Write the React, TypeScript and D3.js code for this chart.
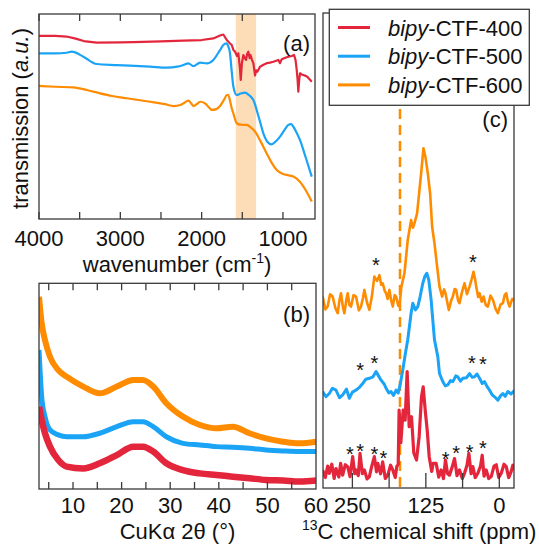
import React from 'react';
import * as d3 from 'd3';

const W = 539, H = 544;
const FONT = '"Liberation Sans", Arial, Helvetica, sans-serif';
const RED = '#e3263b', BLUE = '#1ba3f5', ORANGE = '#ff8b00';
const FRAME = '#3a3a3a';

// ---------- Panel (a): IR ----------
const irTicks = [4000, 3500, 3000, 2500, 2000, 1500, 1000];
const irLabels = [4000, 3000, 2000, 1000];
const irBand = [1580, 1330];
const ir400: [number, number][] = [
  [4000, 89.3], [3800, 89.3], [3660, 89.0], [3550, 88.0], [3450, 86.8], [3290, 86.0], [3000, 86.2],
  [2840, 86.3], [2500, 86.6], [2225, 87.0], [2000, 87.3], [1856, 88.1], [1774, 89.5], [1733, 90.0],
  [1691, 87.3], [1660, 86.0], [1630, 84.9], [1610, 82.5], [1589, 81.6], [1565, 79.5], [1549, 80.8],
  [1530, 74.0], [1519, 67.8], [1505, 76.0], [1487, 80.0], [1470, 78.5], [1454, 77.6], [1440, 80.5],
  [1426, 81.6], [1410, 78.5], [1399, 80.0], [1380, 77.5], [1364, 76.0], [1343, 70.0], [1330, 72.5],
  [1315, 71.9], [1282, 74.3], [1240, 75.2], [1200, 76.0], [1160, 76.3], [1118, 76.7], [1057, 77.6],
  [1036, 76.0], [1016, 77.9], [954, 78.9], [893, 79.5], [864, 80.0], [845, 77.5], [831, 72.7],
  [820, 68.0], [811, 62.1], [800, 68.0], [790, 71.1], [770, 70.5], [749, 70.2], [720, 69.8],
  [700, 69.4], [670, 68.0], [646, 67.0],
];
const ir500: [number, number][] = [
  [4000, 80.8], [3800, 80.8], [3660, 81.1], [3598, 81.6], [3455, 79.2], [3290, 75.6], [3044, 75.1],
  [2634, 74.3], [2429, 73.8], [2300, 74.3], [2225, 75.1], [2163, 75.9], [2101, 74.6], [2019, 76.3],
  [1937, 75.9], [1856, 77.6], [1774, 82.4], [1730, 85.0], [1700, 85.7], [1675, 84.5], [1651, 80.8],
  [1630, 72.0], [1610, 64.6], [1569, 60.5], [1520, 61.2], [1466, 61.6], [1420, 60.5], [1364, 58.0],
  [1300, 50.0], [1241, 41.8], [1190, 37.6], [1139, 36.4], [1090, 37.8], [1036, 40.2], [980, 43.5],
  [934, 45.9], [900, 46.3], [872, 45.0], [830, 42.0], [790, 38.5], [720, 30.0], [646, 20.7],
];
const ir600: [number, number][] = [
  [4000, 64.9], [3800, 64.5], [3578, 64.2], [3400, 62.8], [3249, 61.3], [3100, 60.0], [2921, 58.9],
  [2634, 57.2], [2450, 56.0], [2347, 55.1], [2260, 55.6], [2225, 56.4], [2163, 57.7], [2130, 56.5],
  [2101, 55.1], [2060, 56.0], [2019, 57.2], [1958, 56.4], [1900, 54.0], [1876, 53.2], [1820, 53.6],
  [1774, 55.1], [1720, 58.5], [1690, 60.5], [1672, 60.5], [1650, 57.5], [1630, 54.0], [1610, 51.5],
  [1569, 46.7], [1520, 46.0], [1446, 45.9], [1400, 44.8], [1343, 42.6], [1270, 37.5], [1200, 32.0],
  [1140, 27.5], [1077, 23.9], [1000, 22.0], [930, 21.3], [872, 20.7], [800, 18.5], [720, 14.0],
  [646, 8.5],
];

// ---------- Panel (b): XRD ----------
const xrdTicks = [5, 10, 15, 20, 25, 30, 35, 40, 45, 50, 55];
const xrdLabels = [10, 20, 30, 40, 50, 60];
const xrd400: [number, number][] = [
  [3.0, 40.0], [3.55, 33.5], [4.23, 27.1], [5.26, 20.6], [6.97, 14.1], [8.68, 10.9], [12.1, 10.0],
  [15.5, 12.5], [19.0, 16.5], [22.4, 20.6], [24.4, 20.6], [26.5, 18.2], [29.2, 12.5], [32.6, 9.2],
  [36.1, 7.6], [39.5, 6.8], [42.9, 6.0], [46.3, 5.2], [49.7, 4.4], [53.2, 4.1], [56.6, 3.6], [60, 4.1],
];
const xrd500: [number, number][] = [
  [3.0, 67.6], [3.55, 44.9], [4.23, 35.2], [5.26, 28.7], [6.97, 26.3], [8.68, 25.4], [12.1, 25.4],
  [15.5, 27.1], [19.0, 30.3], [22.4, 32.7], [24.4, 32.7], [26.5, 30.3], [29.2, 25.4], [32.6, 22.2],
  [36.1, 21.4], [39.5, 20.6], [42.9, 20.3], [46.3, 19.8], [49.7, 19.0], [53.2, 18.5], [56.6, 18.2], [60, 18.2],
];
const xrd600: [number, number][] = [
  [3.0, 93.5], [3.55, 80.6], [4.23, 72.4], [5.26, 64.3], [6.97, 57.8], [8.68, 54.6], [12.1, 49.8],
  [15.5, 46.5], [19.0, 49.8], [22.4, 53.0], [24.4, 53.0], [26.5, 49.8], [29.2, 41.7], [32.6, 35.2],
  [36.1, 31.1], [39.5, 29.5], [42.9, 30.3], [46.3, 27.1], [49.7, 24.6], [53.2, 23.0], [56.6, 22.2], [60, 23.0],
];

// ---------- Panel (c): 13C NMR ----------
const nmrTicks = [250, 187.5, 125, 62.5, 0];
const nmrLabels = [250, 125, 0];
const nmrDashed = 169;
const nmr400: [number, number][] = [
  [300.6, 3.8], [296, 2.2], [292, 4.6], [289.2, 3.1], [285, 5.0], [281, 2.0], [277.9, 4.1], [273, 2.3],
  [270, 5.2], [266.5, 2.7], [262, 4.9], [258.0, 4.5], [254, 2.4], [249.5, 6.6], [246, 3.0], [243.8, 3.8],
  [240, 2.6], [237.0, 7.3], [233, 3.0], [229.6, 3.8], [225, 1.9], [221.1, 2.4], [217, 4.6], [212.6, 6.6],
  [209, 3.4], [206.9, 5.2], [202, 3.0], [198.4, 5.5], [194, 2.0], [189.8, 2.7], [185, 4.8], [181.3, 3.8],
  [177, 2.2], [174.5, 4.5], [172, 5.0], [170.5, 16.4], [167.6, 9.5], [163.6, 16.4], [160.2, 14.3],
  [156.8, 24.5], [153.4, 12.9], [149.4, 15.0], [145.5, 7.4], [140.9, 5.9], [136.4, 10.8], [132.4, 19.2],
  [129.5, 21.3], [126.1, 16.4], [122.7, 12.2], [119.3, 6.6], [115, 3.5], [112.5, 5.2], [107.5, 5.2],
  [103, 2.3], [99.0, 3.8], [95, 2.0], [91.6, 5.9], [88, 3.0], [84.8, 2.7], [80, 4.5], [76.2, 6.2],
  [72, 2.6], [67.7, 3.8], [63, 2.0], [59.2, 3.1], [55, 4.8], [51.8, 7.3], [48, 3.0], [45.0, 4.5],
  [41, 2.2], [36.5, 3.1], [32, 4.6], [29.1, 6.9], [26, 2.5], [22.3, 3.8], [18, 2.0], [13.8, 2.4],
  [9, 4.6], [5.2, 4.9], [1, 2.2], [-3.3, 3.1], [-8, 5.0], [-11.8, 4.5], [-16, 2.2], [-20.3, 3.5],
  [-23, 4.8], [-26.0, 3.8],
];
const nmr500: [number, number][] = [
  [300.6, 20.3], [295, 19.2], [289.2, 19.9], [284, 21.0], [277.9, 20.6], [272, 19.0], [266.5, 19.6],
  [260, 20.8], [255.2, 18.9], [250, 20.2], [243.8, 20.6], [238, 21.2], [232.4, 22.0], [227, 22.9],
  [221.1, 23.1], [215, 23.4], [209.7, 24.5], [205, 23.5], [201.2, 22.7], [196, 21.9], [192.7, 21.0],
  [188, 20.0], [184.2, 20.3], [180, 19.5], [175.6, 20.6], [172, 20.0], [168.8, 21.7], [164.3, 24.8],
  [159.7, 28.4], [155.8, 31.2], [150.1, 36.8], [147.2, 38.9], [142.7, 37.5], [138.7, 38.2],
  [134.7, 40.3], [130.2, 43.1], [126.8, 44.5], [123.4, 45.2], [120.0, 43.8], [116.0, 39.6],
  [113.2, 35.4], [110.3, 31.2], [104.6, 27.6], [101.8, 24.1], [96.1, 22.4], [92, 21.5], [87.6, 21.7],
  [83, 22.6], [79.1, 22.4], [74, 23.6], [70.6, 23.4], [66, 22.5], [62.0, 23.1], [56, 23.2], [50.7, 24.1],
  [46, 23.3], [42.2, 23.4], [38, 24.0], [33.6, 23.1], [29, 22.0], [25.1, 22.4], [21, 21.4], [16.6, 20.6],
  [12, 19.6], [8.1, 19.2], [2.4, 18.5], [-2, 19.4], [-6.1, 19.9], [-10, 19.3], [-14.6, 20.3],
  [-20, 19.8], [-26.0, 20.6],
];
const nmr600: [number, number][] = [
  [300.6, 40.3], [296, 37.6], [292.1, 38.2], [288, 40.8], [283.6, 40.3], [279, 37.9], [275.0, 36.8],
  [272, 39.5], [269.4, 41.0], [266, 38.0], [263.7, 36.8], [260, 39.8], [258.0, 41.0], [255, 38.5],
  [252.3, 38.2], [248, 40.6], [243.8, 40.3], [239, 37.4], [235.3, 38.2], [232, 40.0], [229.6, 41.7],
  [225, 39.0], [221.1, 37.5], [217, 40.2], [212.6, 44.5], [208, 43.6], [204.0, 44.8], [201, 42.8],
  [198.4, 43.1], [195, 41.5], [192.7, 41.0], [190, 39.8], [187.0, 41.7], [184, 39.5], [181.3, 38.2],
  [178, 40.6], [175.6, 40.3], [172, 38.4], [170.0, 38.2], [166.6, 42.4], [161.4, 45.2], [155.8, 52.2],
  [150.1, 56.4], [147, 54.8], [144.4, 55.7], [139.9, 57.8], [135.9, 62.7], [132.5, 66.9], [129.1, 71.5],
  [125.7, 69.7], [121.7, 66.3], [117.7, 62.0], [114.3, 55.0], [110.3, 51.5], [105.8, 46.6],
  [101.8, 42.4], [97.3, 40.3], [94, 41.8], [91.6, 41.0], [88, 38.8], [85.9, 37.5], [82, 39.4],
  [79.1, 40.3], [76, 41.9], [73.4, 41.7], [70, 39.4], [67.7, 38.9], [63, 41.5], [59.2, 43.1],
  [55, 40.8], [50.7, 42.4], [47, 44.0], [43.9, 45.5], [41, 43.8], [39.3, 42.4], [36, 40.2], [33.6, 41.0],
  [30, 39.2], [26.8, 40.3], [23, 38.5], [19.4, 38.2], [15, 40.5], [10.9, 39.6], [6, 37.6], [2.4, 36.8],
  [-2, 38.6], [-6.1, 38.9], [-9, 40.6], [-11.8, 41.0], [-15, 39.0], [-17.5, 38.2], [-22, 39.8], [-26.0, 39.6],
];
const stars400: [number, number][] = [
  [254.1, 8.1], [237.0, 8.8], [212.5, 8.1], [197.1, 7.3], [91.4, 7.1], [73.3, 8.3], [50.5, 8.6], [27.8, 9.4],
];
const stars500: [number, number][] = [[237.0, 25.7], [212.5, 27.3], [46.6, 27.3], [27.8, 27.1]];
const stars600: [number, number][] = [[209.8, 47.9], [44.9, 48.6]];

const legendNames = ['-CTF-400', '-CTF-500', '-CTF-600'];
const legendColors = [RED, BLUE, ORANGE];

// layout
const A = { x0: 39, x1: 315, y0: 14, y1: 219 };
const B = { x0: 39, x1: 316, y0: 283.3, y1: 489 };
const C = { x0: 323, x1: 514, y0: 13, y1: 488 };

export default function App() {
  const xA = d3.scaleLinear().domain([4000, 606]).range([A.x0, A.x1]);
  const yA = d3.scaleLinear().domain([0, 100]).range([A.y1, A.y0]);
  const xB = d3.scaleLinear().domain([3, 60]).range([B.x0, B.x1]);
  const yB = d3.scaleLinear().domain([0, 100]).range([B.y1, B.y0]);
  const xC = d3.scaleLinear().domain([300, -25]).range([C.x0, C.x1]);
  const yC = d3.scaleLinear().domain([0, 100]).range([C.y1, C.y0]);

  const lineA = d3.line<[number, number]>().x(d => xA(d[0])).y(d => yA(d[1])).curve(d3.curveMonotoneX);
  const lineAr = d3.line<[number, number]>().x(d => xA(d[0])).y(d => yA(d[1]));
  const lineB = d3.line<[number, number]>().x(d => xB(d[0])).y(d => yB(d[1])).curve(d3.curveMonotoneX);
  const lineC = d3.line<[number, number]>().x(d => xC(d[0])).y(d => yC(d[1]));

  const labelStyle = { fontFamily: FONT, fontSize: 22, fill: '#111' } as const;

  return (
    <svg width={W} height={H} style={{ position: 'absolute', left: 0, top: 0, background: '#fff' }}>
      <defs>
        <clipPath id="clipA"><rect x={A.x0} y={A.y0} width={A.x1 - A.x0} height={A.y1 - A.y0} /></clipPath>
        <clipPath id="clipB"><rect x={B.x0} y={B.y0} width={B.x1 - B.x0} height={B.y1 - B.y0} /></clipPath>
        <clipPath id="clipC"><rect x={C.x0} y={C.y0} width={C.x1 - C.x0} height={C.y1 - C.y0} /></clipPath>
      </defs>
      <rect x={0} y={0} width={W} height={H} fill="#fff" />

      {/* Panel (a) */}
      <g clipPath="url(#clipA)">
        <rect x={xA(irBand[0])} y={A.y0} width={xA(irBand[1]) - xA(irBand[0])} height={A.y1 - A.y0} fill="#fddcb8" />
        <path d={lineAr(ir400) || ''} fill="none" stroke={RED} strokeWidth={2.2} strokeLinejoin="round" />
        <path d={lineA(ir500) || ''} fill="none" stroke={BLUE} strokeWidth={2.2} />
        <path d={lineA(ir600) || ''} fill="none" stroke={ORANGE} strokeWidth={2.2} />
      </g>
      <rect x={A.x0} y={A.y0} width={A.x1 - A.x0} height={A.y1 - A.y0} fill="none" stroke={FRAME} strokeWidth={1.3} />
      {irTicks.map(t => (
        <g key={'at' + t}>
          <line x1={xA(t)} x2={xA(t)} y1={A.y1} y2={A.y1 - 7} stroke={FRAME} strokeWidth={1.3} />
          <line x1={xA(t)} x2={xA(t)} y1={A.y0} y2={A.y0 + 7} stroke={FRAME} strokeWidth={1.3} />
        </g>
      ))}
      {irLabels.map(t => (
        <text key={'al' + t} x={xA(t)} y={246} textAnchor="middle" style={labelStyle}>{t}</text>
      ))}
      <text x={(A.x0 + A.x1) / 2} y={272} textAnchor="middle" style={labelStyle}>
        <tspan>wavenumber (cm</tspan>
        <tspan dy={-9} fontSize={14}>-1</tspan>
        <tspan dy={9}>)</tspan>
      </text>
      <text transform={`translate(28, ${(A.y0 + A.y1) / 2 + 2}) rotate(-90)`} textAnchor="middle" style={labelStyle}>
        <tspan>transmission (</tspan>
        <tspan fontStyle="italic">a.u.</tspan>
        <tspan>)</tspan>
      </text>
      <text x={310} y={50.5} textAnchor="end" style={labelStyle}>(a)</text>

      {/* Panel (b) */}
      <g clipPath="url(#clipB)">
        <path d={lineB(xrd600) || ''} fill="none" stroke={ORANGE} strokeWidth={6} strokeLinejoin="round" />
        <path d={lineB(xrd500) || ''} fill="none" stroke={BLUE} strokeWidth={5} strokeLinejoin="round" />
        <path d={lineB(xrd400) || ''} fill="none" stroke={RED} strokeWidth={6.5} strokeLinejoin="round" />
      </g>
      <rect x={B.x0} y={B.y0} width={B.x1 - B.x0} height={B.y1 - B.y0} fill="none" stroke={FRAME} strokeWidth={1.3} />
      {xrdTicks.map(t => (
        <g key={'bt' + t}>
          <line x1={xB(t)} x2={xB(t)} y1={B.y1} y2={B.y1 - 7} stroke={FRAME} strokeWidth={1.3} />
          <line x1={xB(t)} x2={xB(t)} y1={B.y0} y2={B.y0 + 7} stroke={FRAME} strokeWidth={1.3} />
        </g>
      ))}
      {xrdLabels.map(t => (
        <text key={'bl' + t} x={xB(t)} y={513} textAnchor="middle" style={labelStyle}>{t}</text>
      ))}
      <text x={(B.x0 + B.x1) / 2} y={538.5} textAnchor="middle" style={labelStyle}>CuKα 2θ (°)</text>
      <text x={310} y={322} textAnchor="end" style={labelStyle}>(b)</text>

      {/* Panel (c) */}
      <g clipPath="url(#clipC)">
        <line x1={xC(nmrDashed)} x2={xC(nmrDashed)} y1={C.y0} y2={C.y1} stroke={ORANGE} strokeWidth={2.5} strokeDasharray="10,6" />
        <path d={lineC(nmr600) || ''} fill="none" stroke={ORANGE} strokeWidth={2.6} strokeLinejoin="round" />
        <path d={lineC(nmr500) || ''} fill="none" stroke={BLUE} strokeWidth={3} strokeLinejoin="round" />
        <path d={lineC(nmr400) || ''} fill="none" stroke={RED} strokeWidth={3.2} strokeLinejoin="round" />
      </g>
      <rect x={C.x0} y={C.y0} width={C.x1 - C.x0} height={C.y1 - C.y0} fill="none" stroke={FRAME} strokeWidth={1.3} />
      {nmrTicks.map(t => (
        <line key={'ct' + t} x1={xC(t)} x2={xC(t)} y1={C.y1} y2={C.y1 - 15} stroke={FRAME} strokeWidth={1.3} />
      ))}
      {nmrLabels.map(t => (
        <text key={'cl' + t} x={xC(t)} y={513} textAnchor="middle" style={labelStyle}>{t}</text>
      ))}
      {[...stars400, ...stars500, ...stars600].map((s, i) => (
        <text key={'s' + i} x={xC(s[0])} y={yC(s[1]) + 11.5} textAnchor="middle"
          style={{ fontFamily: FONT, fontSize: 20, fill: '#111' }}>*</text>
      ))}
      <text x={302} y={538.5} style={labelStyle}>
        <tspan dy={-9} fontSize={14}>13</tspan>
        <tspan dy={9}>C chemical shift (ppm)</tspan>
      </text>
      <text x={508} y={127} textAnchor="end" style={labelStyle}>(c)</text>

      {/* Legend */}
      <rect x={329.3} y={9.3} width={200} height={96} fill="#fff" stroke={FRAME} strokeWidth={1.3} />
      {legendNames.map((n, i) => {
        const cy = 27.5 + i * 28.7;
        return (
          <g key={'lg' + i}>
            <line x1={338} x2={370} y1={cy} y2={cy} stroke={legendColors[i]} strokeWidth={3} />
            <text x={388} y={cy + 8} style={labelStyle}>
              <tspan fontStyle="italic">bipy</tspan>
              <tspan>{n}</tspan>
            </text>
          </g>
        );
      })}
    </svg>
  );
}
